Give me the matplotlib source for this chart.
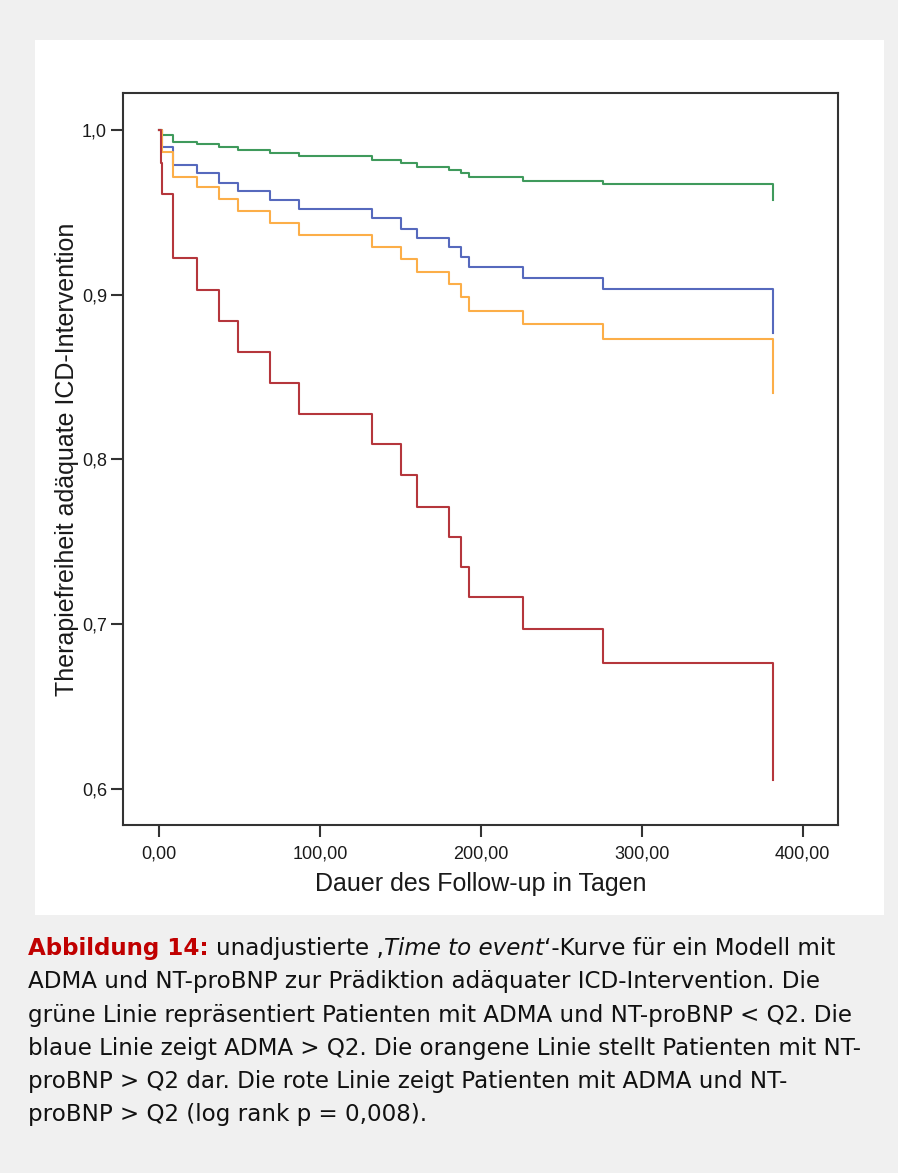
import matplotlib
matplotlib.use('Agg')
import matplotlib.pyplot as plt
from matplotlib.patches import Rectangle
from matplotlib.ticker import FuncFormatter

# follow-up days where at least one curve steps down
days = [0, 0.8, 1.7, 8.5, 23.4, 37.1, 48.9, 68.8, 86.9, 132.3, 150.3, 160.2,
        180.1, 187.6, 192.6, 226.1, 275.9, 381.5]

# survival (therapy-free) per group
green = [1.0, 1.0, 0.997, 0.993, 0.9915, 0.990, 0.988, 0.986, 0.984, 0.982, 0.980,
         0.9775, 0.976, 0.974, 0.9715, 0.969, 0.967, 0.9575]
blue = [1.0, 1.0, 0.990, 0.979, 0.974, 0.968, 0.963, 0.9575, 0.952, 0.9466, 0.940,
        0.9344, 0.929, 0.923, 0.9168, 0.910, 0.9035, 0.877]
orange = [1.0, 1.0, 0.9866, 0.9715, 0.9654, 0.9581, 0.9508, 0.9436, 0.9363, 0.929,
          0.9217, 0.9138, 0.9065, 0.8986, 0.8901, 0.8822, 0.8731, 0.8404]
red = [1.0, 0.980, 0.9612, 0.9223, 0.9029, 0.8841, 0.8652, 0.8464, 0.8276, 0.8094,
       0.7906, 0.7712, 0.753, 0.7347, 0.7165, 0.6971, 0.6765, 0.6055]

x_ticks = [0, 100, 200, 300, 400]
y_ticks = [0.6, 0.7, 0.8, 0.9, 1.0]

caption = [
    [("Abbildung 14:", "bold_red"), (" unadjustierte \u201a", "normal"),
     ("Time to event", "italic"), ("\u2018-Kurve für ein Modell mit", "normal")],
    [("ADMA und NT-proBNP zur Prädiktion adäquater ICD-Intervention. Die", "normal")],
    [("grüne Linie repräsentiert Patienten mit ADMA und NT-proBNP < Q2. Die", "normal")],
    [("blaue Linie zeigt ADMA > Q2. Die orangene Linie stellt Patienten mit NT-", "normal")],
    [("proBNP > Q2 dar. Die rote Linie zeigt Patienten mit ADMA und NT-", "normal")],
    [("proBNP > Q2 (log rank p = 0,008).", "normal")],
]

W, H = 898, 1173
fig = plt.figure(figsize=(W / 100, H / 100), dpi=100, facecolor='#f0f0f0')
fig.patches.append(Rectangle((35 / W, 1 - 915 / H), 849 / W, 875 / H,
                             transform=fig.transFigure, facecolor='white',
                             edgecolor='none', zorder=-5))

ax = fig.add_axes([123 / W, 1 - 825 / H, 715 / W, 732 / H])
ax.set_facecolor('white')

colors = {'green': '#3f9a5c', 'blue': '#5669bd', 'orange': '#fcae48', 'red': '#b5363c'}
for vals, name in [(green, 'green'), (blue, 'blue'), (orange, 'orange'), (red, 'red')]:
    ax.plot(days, vals, drawstyle='steps-post', color=colors[name], lw=1.5)

ax.set_xlim(-22.6, 421.9)
ax.set_ylim(0.5781, 1.0225)
ax.set_xticks(x_ticks)
ax.set_yticks(y_ticks)
ax.xaxis.set_major_formatter(FuncFormatter(lambda v, p: f"{v:.2f}".replace('.', ',')))
ax.yaxis.set_major_formatter(FuncFormatter(lambda v, p: f"{v:.1f}".replace('.', ',')))

font = 'Liberation Sans'
for s in ax.spines.values():
    s.set_color('#333333')
    s.set_linewidth(1.5)
ax.tick_params(direction='out', length=8.5, width=1.5, color='#333333',
               labelsize=13, labelcolor='#1a1a1a')
ax.tick_params(axis='x', pad=6)
ax.tick_params(axis='y', pad=3)
for lbl in ax.get_xticklabels() + ax.get_yticklabels():
    lbl.set_family(font)
ax.set_xlabel('Dauer des Follow-up in Tagen', fontsize=18, family=font,
              color='#1a1a1a', labelpad=7)
ax.set_ylabel('Therapiefreiheit adäquate ICD-Intervention', fontsize=18,
              family=font, color='#1a1a1a', labelpad=2)

# caption with mixed styles
styles = {
    'normal': dict(family='DejaVu Sans', color='#111111'),
    'bold_red': dict(family='DejaVu Sans', color='#c00000', weight='bold'),
    'italic': dict(family='DejaVu Sans', color='#111111', style='italic'),
}
cap_size = 16.6
renderer = fig.canvas.get_renderer()
probe_a = fig.text(0, 0, 'xx', fontsize=cap_size, **styles['normal'])
probe_b = fig.text(0, 0, 'x x', fontsize=cap_size, **styles['normal'])
space_w = probe_b.get_window_extent(renderer).width - probe_a.get_window_extent(renderer).width
probe_a.remove()
probe_b.remove()

y0 = 955
for i, line in enumerate(caption):
    xp = 28
    for text, st in line:
        lead = len(text) - len(text.lstrip(' '))
        xp += lead * space_w
        t = fig.text(xp / W, 1 - (y0 + i * 33.3) / H, text.lstrip(' '),
                     fontsize=cap_size, va='baseline', ha='left', **styles[st])
        xp += t.get_window_extent(renderer).width

fig.savefig('out.png', dpi=100, facecolor=fig.get_facecolor())
